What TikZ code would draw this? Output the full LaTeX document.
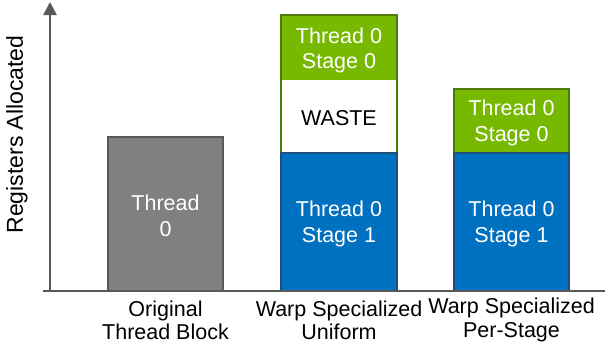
\documentclass[tikz,border=0pt]{standalone}
\usepackage{fontspec}
\setmainfont{Liberation Sans}
\usetikzlibrary{arrows.meta}
\definecolor{axisgray}{HTML}{595959}
\definecolor{barfill}{HTML}{808080}
\definecolor{nvgreen}{HTML}{76B900}
\definecolor{nvgreenedge}{HTML}{4F7A0A}
\definecolor{stageblue}{HTML}{0070C0}
\definecolor{stageblueedge}{HTML}{1F4E79}
\begin{document}
\begin{tikzpicture}[x=1pt,y=-1pt,
  lbl/.style={font=\fontsize{21.5}{25.5}\selectfont, align=center, inner sep=0pt},
  catlbl/.style={font=\fontsize{21.5}{23.3}\selectfont, align=center, inner sep=0pt},
  inbar/.style={lbl, text=white},
  axisline/.style={draw=axisgray, line width=2.6pt},
  graybar/.style={fill=barfill, draw=axisgray, line width=2.4pt},
  greenbar/.style={fill=nvgreen, draw=nvgreenedge, line width=2.4pt},
  wastebox/.style={fill=white, draw=nvgreenedge, line width=2.4pt},
  bluebar/.style={fill=stageblue, draw=stageblueedge, line width=2.4pt}]
\useasboundingbox (0,0) rectangle (605,348);

% bars: original thread block
\draw[graybar] (108,137) rectangle (223,291);
\node[inbar] (orig) at (165.5,216) {Thread\\0};

% bars: warp specialized, uniform allocation
\draw[wastebox] (281,15) rectangle (397,153);
\fill[nvgreen] (282.2,16.2) rectangle (395.8,80);
\draw[bluebar] (281,153) rectangle (397,291);
\node[inbar] (u0) at (339,50.5) {Thread 0\\Stage 0};
\node[lbl] (waste) at (339,118) {WASTE};
\node[inbar] (u1) at (339,224) {Thread 0\\Stage 1};

% bars: warp specialized, per-stage allocation
\draw[greenbar] (454,89) rectangle (569,153);
\draw[bluebar] (454,153) rectangle (569,291);
\node[inbar] (p0) at (511.5,123) {Thread 0\\Stage 0};
\node[inbar] (p1) at (511.5,224) {Thread 0\\Stage 1};

% axes
\coordinate (origin) at (50,291);
\coordinate (ytop) at (50,2);
\coordinate (xleft) at (43,291);
\coordinate (xright) at (605,291);
\draw[axisline] (xleft) -- (xright);
\draw[axisline, -{Triangle[length=13pt,width=13pt]}] (origin) -- (ytop);

\node[font=\fontsize{23}{27}\selectfont, inner sep=0pt, rotate=90] (ylab) at (17,134.5) {Registers Allocated};

% category labels
\node[catlbl] (c1) at (165.5,320) {Original\\Thread Block};
\node[catlbl] (c2) at (339,320) {Warp Specialized\\Uniform};
\node[catlbl] (c3) at (511.5,320) {Warp Specialized\\Per-Stage};
\end{tikzpicture}
\end{document}
